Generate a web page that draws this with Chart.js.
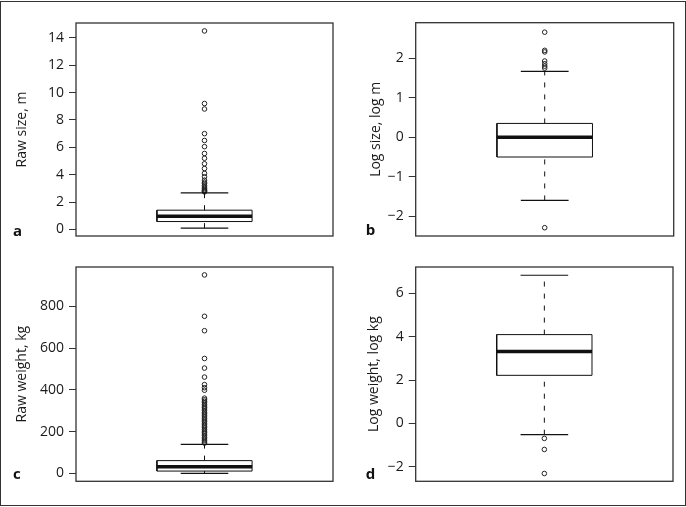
<!DOCTYPE html>
<html>
<head>
<meta charset="utf-8">
<script src="https://cdn.jsdelivr.net/npm/chart.js@4.4.1/dist/chart.umd.min.js"></script>
<style>
  html, body { margin: 0; padding: 0; background: #fff; }
  #page { position: relative; width: 686px; height: 507px; }
  #frame { position: absolute; left: 0; top: 1px; width: 686px; height: 505px; box-sizing: border-box; border: 1px solid #333; }
  canvas { position: absolute; }
</style>
</head>
<body>
<div id="page">
  <div id="frame"></div>
  <canvas id="chartA" width="343" height="253" style="left:0;top:0"></canvas>
  <canvas id="chartB" width="343" height="253" style="left:343px;top:0"></canvas>
  <canvas id="chartC" width="343" height="254" style="left:0;top:253px"></canvas>
  <canvas id="chartD" width="343" height="254" style="left:343px;top:253px"></canvas>
</div>
<script>
// box stats: [lower whisker, Q1, median, Q3, upper whisker]
const rawSizeStats = [0.1, 0.58, 0.97, 1.41, 2.67];
const rawSizeOutliers = [14.5, 9.2, 8.8, 7.0, 6.5, 6.05, 5.55, 5.2, 4.8, 4.45, 4.1, 3.85, 3.6, 3.45, 3.35, 3.2, 3.1, 3.0, 2.9, 2.85, 2.8, 2.75];
const rawSizeTicks = [0, 2, 4, 6, 8, 10, 12, 14];

const logSizeStats = [-1.6, -0.5, 0.0, 0.35, 1.67];
const logSizeOutliers = [2.66, 2.2, 2.16, 1.93, 1.86, 1.8, 1.75, -2.29];
const logSizeTicks = [-2, -1, 0, 1, 2];

const rawWeightStats = [0, 11, 32, 61, 139];
const rawWeightOutliers = [950, 752, 683, 550, 504, 461, 425, 410, 398, 360, 352, 345, 338, 330, 322, 315, 308, 300, 292, 285, 278, 270, 262, 255, 248, 240, 232, 225, 218, 210, 202, 195, 188, 180, 172, 165, 158, 150, 145];
const rawWeightTicks = [0, 200, 400, 600, 800];

const logWeightStats = [-0.52, 2.22, 3.32, 4.1, 6.84];
const logWeightOutliers = [-0.69, -1.2, -2.31];
const logWeightTicks = [-2, 0, 2, 4, 6];

const FONT = '"Open Sans", "Noto Sans", sans-serif';

const framePlugin = {
  id: 'frame',
  afterDraw(chart, args, opts) {
    const { ctx, chartArea: a } = chart;
    ctx.save();
    ctx.strokeStyle = '#333';
    ctx.lineWidth = 1.3;
    ctx.strokeRect(a.left, a.top, a.right - a.left, a.bottom - a.top);
    ctx.fillStyle = '#111';
    ctx.font = 'bold 15px ' + FONT;
    ctx.textBaseline = 'alphabetic';
    ctx.fillText(opts.letter, opts.lx, opts.ly);
    ctx.restore();
  }
};

function seg(points, width, dash) {
  return {
    type: 'line', data: points, showLine: true, borderColor: '#111', borderWidth: width,
    borderDash: dash || [], pointRadius: 0, fill: false, tension: 0, borderCapStyle: 'butt'
  };
}

function makeChart(id, stats, outliers, ticks, cfg) {
  const [lo, q1, med, q3, hi] = stats;
  const datasets = [
    seg([{x: 1, y: q3}, {x: 1, y: hi}], 1, [5, 7]),
    seg([{x: 1, y: lo}, {x: 1, y: q1}], 1, [5, 7]),
    seg([{x: 0.9, y: hi}, {x: 1.1, y: hi}], 1.2),
    seg([{x: 0.9, y: lo}, {x: 1.1, y: lo}], 1.2),
    seg([{x: 0.8, y: q1}, {x: 1.2, y: q1}, {x: 1.2, y: q3}, {x: 0.8, y: q3}, {x: 0.8, y: q1}], 1),
    seg([{x: 0.8, y: med}, {x: 1.2, y: med}], 3.5),
    {
      type: 'scatter', data: outliers.map(v => ({x: 1, y: v})), pointStyle: 'circle',
      pointRadius: 2.3, pointBorderWidth: 1, borderColor: '#222', backgroundColor: 'rgba(0,0,0,0)'
    }
  ];
  return new Chart(document.getElementById(id), {
    type: 'scatter',
    data: { datasets },
    options: {
      responsive: false,
      animation: false,
      layout: { padding: cfg.padding },
      plugins: {
        legend: { display: false },
        tooltip: { enabled: false },
        frame: { letter: cfg.letter, lx: cfg.lx, ly: cfg.ly }
      },
      scales: {
        x: { type: 'linear', min: 0.46, max: 1.54, display: false },
        y: {
          type: 'linear', min: cfg.min, max: cfg.max,
          afterFit: s => { s.width = cfg.axisWidth; },
          afterBuildTicks: s => { s.ticks = ticks.map(v => ({ value: v })); },
          grid: { drawOnChartArea: false, drawTicks: true, tickLength: 7, color: '#333' },
          border: { display: false },
          ticks: {
            padding: 5, color: '#1a1a1a', font: { family: FONT, size: 14 },
            callback: v => String(v).replace('-', '\u2212')
          },
          title: {
            display: true, text: cfg.title, color: '#1a1a1a',
            font: { family: FONT, size: 14 }, padding: { top: cfg.titlePad, bottom: 0 }
          }
        }
      }
    },
    plugins: [framePlugin]
  });
}

makeChart('chartA', rawSizeStats, rawSizeOutliers, rawSizeTicks, {
  title: 'Raw size, m', min: -0.476, max: 15.08, axisWidth: 76, titlePad: 13.5,
  padding: { left: 0, right: 10, top: 23, bottom: 17 }, letter: 'a', lx: 13, ly: 235.5
});
makeChart('chartB', logSizeStats, logSizeOutliers, logSizeTicks, {
  title: 'Log size, log m', min: -2.5, max: 2.9, axisWidth: 72.7, titlePad: 24.5,
  padding: { left: 0, right: 12.3, top: 22.7, bottom: 17 }, letter: 'b', lx: 22.7, ly: 235
});
makeChart('chartC', rawWeightStats, rawWeightOutliers, rawWeightTicks, {
  title: 'Raw weight, kg', min: -38, max: 988, axisWidth: 76, titlePad: 14,
  padding: { left: 0, right: 10, top: 14, bottom: 25.7 }, letter: 'c', lx: 13, ly: 226.3
});
makeChart('chartD', logWeightStats, logWeightOutliers, logWeightTicks, {
  title: 'Log weight, log kg', min: -2.67, max: 7.22, axisWidth: 72.7, titlePad: 22.5,
  padding: { left: 0, right: 13, top: 14, bottom: 25.7 }, letter: 'd', lx: 22.7, ly: 226
});
</script>
</body>
</html>
